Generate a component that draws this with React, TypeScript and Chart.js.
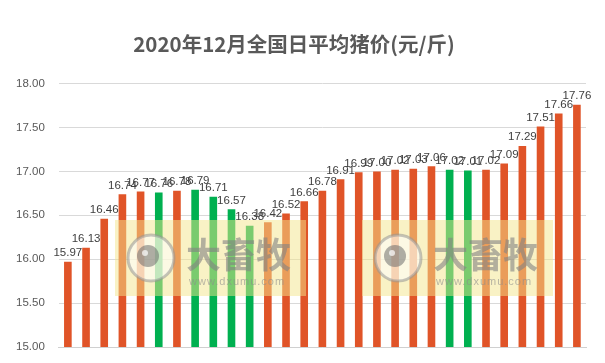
import React, { useEffect, useRef } from "react";
import { Chart, registerables } from "chart.js";

Chart.register(...registerables);

const days: string[] = [
  "1", "2", "3", "4", "5", "6", "7", "8", "9", "10", "11", "12", "13", "14", "15",
  "16", "17", "18", "19", "20", "21", "22", "23", "24", "25", "26", "27", "28", "29",
];
const prices: number[] = [
  15.97, 16.13, 16.46, 16.74, 16.77, 16.76, 16.78, 16.79, 16.71, 16.57, 16.38, 16.42,
  16.52, 16.66, 16.78, 16.91, 16.99, 17.0, 17.02, 17.03, 17.06, 17.02, 17.01, 17.02,
  17.09, 17.29, 17.51, 17.66, 17.76,
];
// "u" = orange bar, "d" = green bar
const trend: string[] = [
  "u", "u", "u", "u", "u", "d", "u", "d", "d", "d", "d", "u", "u", "u", "u",
  "u", "u", "u", "u", "u", "u", "d", "d", "u", "u", "u", "u", "u", "u",
];
const yTicksMin = 15;
const yTicksMax = 18;
const yStep = 0.5;
const titleText = "2020年12月全国日平均猪价(元/斤)";

const ORANGE = "#E05428";
const GREEN = "#00B050";

const labelPlugin = {
  id: "barLabels",
  afterDatasetsDraw(chart: any) {
    const ctx = chart.ctx;
    const meta = chart.getDatasetMeta(0);
    ctx.save();
    ctx.font = "11.5px 'Liberation Sans', Arial, sans-serif";
    ctx.fillStyle = "#404040";
    ctx.textAlign = "center";
    ctx.textBaseline = "bottom";
    meta.data.forEach((el: any, i: number) => {
      ctx.fillText(prices[i].toFixed(2), el.x, el.y - 3);
    });
    ctx.restore();
  },
};

function drawMark(ctx: CanvasRenderingContext2D, x0: number, y0: number) {
  const w = 191;
  const h = 76;
  ctx.fillStyle = "rgba(244, 230, 140, 0.5)";
  ctx.fillRect(x0, y0, w, h);
  const cx = x0 + 36;
  const cy = y0 + 38;
  ctx.beginPath();
  ctx.arc(cx, cy, 23, 0, Math.PI * 2);
  ctx.fillStyle = "rgba(255,255,255,0.55)";
  ctx.fill();
  ctx.lineWidth = 3;
  ctx.strokeStyle = "rgba(150,150,150,0.55)";
  ctx.stroke();
  ctx.beginPath();
  ctx.arc(cx - 3, cy - 2, 11, 0, Math.PI * 2);
  ctx.fillStyle = "rgba(110,110,110,0.55)";
  ctx.fill();
  ctx.beginPath();
  ctx.arc(cx - 6, cy - 5, 3, 0, Math.PI * 2);
  ctx.fillStyle = "rgba(255,255,255,0.7)";
  ctx.fill();
  ctx.fillStyle = "rgba(130,130,130,0.6)";
  ctx.font = "bold 35px 'Noto Sans CJK SC', sans-serif";
  ctx.textAlign = "left";
  ctx.textBaseline = "middle";
  ctx.fillText("大畜牧", x0 + 71, y0 + 35);
  ctx.font = "11px 'Liberation Sans', Arial, sans-serif";
  ctx.fillStyle = "rgba(140,140,140,0.6)";
  (ctx as any).letterSpacing = "1px";
  ctx.fillText("www.dxumu.com", x0 + 74, y0 + 62);
  (ctx as any).letterSpacing = "0px";
}

const watermarkPlugin = {
  id: "watermark",
  afterDraw(chart: any) {
    const ctx = chart.ctx;
    ctx.save();
    drawMark(ctx, 115, 220);
    drawMark(ctx, 362, 220);
    ctx.restore();
  },
};

export default function App() {
  const ref = useRef<HTMLCanvasElement | null>(null);
  useEffect(() => {
    if (!ref.current) return;
    const chart = new Chart(ref.current, {
      type: "bar",
      data: {
        labels: days,
        datasets: [
          {
            data: prices,
            backgroundColor: trend.map((t) => (t === "u" ? ORANGE : GREEN)),
            barPercentage: 0.42,
            categoryPercentage: 1,
          },
        ],
      },
      options: {
        animation: false,
        responsive: false,
        maintainAspectRatio: false,
        layout: { padding: { left: 2, right: 19, top: 0, bottom: 16 } },
        plugins: {
          legend: { display: false },
          tooltip: { enabled: false },
          title: {
            display: true,
            text: titleText,
            color: "#595959",
            font: { size: 20.5, weight: "bold", family: "'Noto Sans CJK SC', sans-serif" },
            padding: { top: 32, bottom: 27 },
          },
        },
        scales: {
          x: {
            grid: { display: false },
            ticks: { display: false, padding: 0 },
            border: { display: true, color: "#d0d0d0", width: 1 },
            afterFit: (s: any) => {
              s.height = 0;
            },
          },
          y: {
            min: yTicksMin,
            max: yTicksMax,
            ticks: {
              stepSize: yStep,
              padding: 14,
              color: "#595959",
              font: { size: 11.5, family: "'Liberation Sans', Arial, sans-serif" },
              callback: (v: any) => Number(v).toFixed(2),
            },
            grid: { color: "#d9d9d9", drawTicks: false },
            border: { display: false },
            afterFit: (s: any) => {
              s.paddingBottom = 0;
            },
          },
        },
      },
      plugins: [labelPlugin, watermarkPlugin],
    });
    return () => chart.destroy();
  }, []);
  return (
    <div style={{ position: "fixed", left: 0, top: 0, width: 605, height: 363, background: "#fff" }}>
      <canvas ref={ref} width={605} height={363} style={{ width: 605, height: 363 }} />
    </div>
  );
}
